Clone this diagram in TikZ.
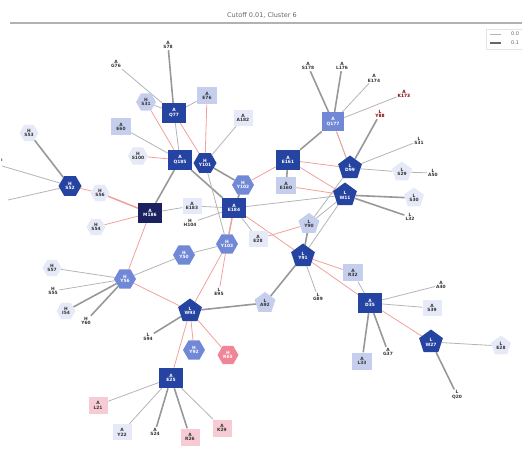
\documentclass[tikz,border=0pt]{standalone}
\usepackage{fontspec}
\setmainfont{DejaVu Sans}
\usetikzlibrary{shapes.geometric,backgrounds}
\definecolor{dkb}{HTML}{2544A2}
\definecolor{nvy}{HTML}{1B2160}
\definecolor{mdb}{HTML}{7088D6}
\definecolor{ltb}{HTML}{C6CEEE}
\definecolor{vlb}{HTML}{E6EAF8}
\definecolor{pnk}{HTML}{F6CBD3}
\definecolor{rpk}{HTML}{F08595}
\definecolor{ered}{HTML}{F3A09C}
\definecolor{egr}{HTML}{B4B4B4}
\definecolor{egk}{HTML}{989898}
\tikzset{
  x=1pt,y=-1pt,
  every node/.style={font=\fontsize{4.4}{4.8}\selectfont\bfseries,align=center,inner sep=1pt},
  sqd/.style={rectangle,fill=dkb,text=white,minimum width=24pt,minimum height=20pt},
  sqn/.style={rectangle,fill=nvy,text=white,minimum width=24pt,minimum height=20pt},
  sqm/.style={rectangle,fill=mdb,text=white,minimum width=22pt,minimum height=19pt},
  sql/.style={rectangle,fill=ltb,text=black!80,minimum width=20pt,minimum height=17pt},
  sqv/.style={rectangle,fill=vlb,text=black!80,minimum width=19pt,minimum height=16pt},
  sqp/.style={rectangle,fill=pnk,text=black!80,minimum width=19pt,minimum height=17pt},
  hxd/.style={regular polygon,regular polygon sides=6,fill=dkb,text=white,minimum size=23pt,inner sep=0pt},
  hxm/.style={regular polygon,regular polygon sides=6,fill=mdb,text=white,minimum size=22pt,inner sep=0pt},
  hxl/.style={regular polygon,regular polygon sides=6,fill=ltb,text=black!80,minimum size=20pt,inner sep=0pt},
  hxv/.style={regular polygon,regular polygon sides=6,fill=vlb,text=black!80,minimum size=19pt,inner sep=0pt},
  hxp/.style={regular polygon,regular polygon sides=6,fill=rpk,text=white,minimum size=21pt,inner sep=0pt},
  ptd/.style={regular polygon,regular polygon sides=5,fill=dkb,text=white,minimum size=25pt,inner sep=0pt},
  ptl/.style={regular polygon,regular polygon sides=5,fill=ltb,text=black!80,minimum size=22pt,inner sep=0pt},
  ptv/.style={regular polygon,regular polygon sides=5,fill=vlb,text=black!80,minimum size=21pt,inner sep=0pt},
  txt/.style={text=black!80},
  gthin/.style={draw=egr,line width=0.8pt},
  gthk/.style={draw=egk,line width=1.6pt},
  rthin/.style={draw=ered,line width=0.8pt},
  rthk/.style={draw=ered,line width=1.5pt},
}
\begin{document}
\begin{tikzpicture}
\useasboundingbox (0,0) rectangle (522,454);
% title
\node[font=\fontsize{6.5}{7}\selectfont,text=black!60] (title) at (262,15) {Cutoff 0.01, Cluster 6};
\draw[black!30,line width=1.6pt] (10,23) -- (522,23);
% legend
\node[draw=black!10,fill=white,minimum width=40pt,minimum height=20pt] (leg) at (506,39) {};
\coordinate (l1a) at (490,34); \coordinate (l1b) at (501,34);
\coordinate (l2a) at (490,43); \coordinate (l2b) at (501,43);
\draw[egr,line width=0.8pt] (l1a) -- (l1b);
\draw[black!60,line width=1.6pt] (l2a) -- (l2b);
\node[font=\fontsize{5}{5}\selectfont,text=black!60,anchor=west] (lt1) at (510,34) {0.0};
\node[font=\fontsize{5}{5}\selectfont,text=black!60,anchor=west] (lt2) at (510,43) {0.1};

% nodes
\node[txt] (S78) at (168,45) {A\\S78};
\node[txt] (G76) at (116,64) {A\\G76};
\node[sqd] (Q77) at (174,113) {A\\Q77};
\node[sql] (E76) at (207,96) {A\\E76};
\node[hxl] (S31h) at (146,102) {H\\S31};
\node[sql] (E60) at (121,127) {A\\E60};
\node[sqv] (A182) at (243,118) {A\\A182};
\node[hxv] (S100) at (138,156) {H\\S100};
\node[sqd] (Q185) at (180,160) {A\\Q185};
\node[hxd] (Y101) at (205,163) {H\\Y101};
\node[sqd] (E161) at (288,160) {A\\E161};
\node[sql] (E160) at (286,186) {A\\E160};
\node[hxm] (Y102) at (243,185) {H\\Y102};
\node[sqn] (M186) at (150,213) {A\\M186};
\node[sqv] (E183) at (192,206) {A\\E183};
\node[txt] (H104) at (190,223) {H\\H104};
\node[sqd] (E184) at (234,208) {A\\E184};
\node[sqv] (E28a) at (258,239) {A\\E28};
\node[hxm] (Y103) at (227,244) {H\\Y103};
\node[hxm] (Y50) at (184,255) {H\\Y50};
\node[txt] (E95) at (219,292) {L\\E95};
\node[ptd] (D99) at (350,168) {L\\D99};
\node[ptv] (S29) at (402,172) {L\\S29};
\node[txt] (A50) at (433,173) {L\\A50};
\node[txt] (S31) at (419,141) {L\\S31};
\node[ptd] (W11) at (345,195) {L\\W11};
\node[ptv] (S30) at (414,198) {L\\S30};
\node[txt] (L32) at (410,217) {L\\L32};
\node[ptl] (Y90) at (309,224) {L\\Y90};
\node[ptd] (Y91) at (303,256) {L\\Y91};
\node[sql] (R32) at (353,273) {A\\R32};
\node[sqd] (D35) at (370,303) {A\\D35};
\node[txt] (A40) at (441,285) {A\\A40};
\node[sqv] (S39) at (432,308) {A\\S39};
\node[sql] (L33) at (362,361) {A\\L33};
\node[txt] (G37) at (388,352) {A\\G37};
\node[ptd] (W27) at (431,342) {L\\W27};
\node[ptv] (E28) at (501,346) {L\\E28};
\node[txt] (Q20) at (457,395) {L\\Q20};
\node[txt] (G89) at (318,297) {L\\G89};
\node[ptl] (A92) at (265,303) {L\\A92};
\node[ptd] (W93) at (190,311) {L\\W93};
\node[txt] (S94) at (148,337) {L\\S94};
\node[hxm] (Y92) at (194,350) {H\\Y92};
\node[hxp] (R65) at (228,355) {H\\R65};
\node[sqd] (E25) at (171,378) {A\\E25};
\node[sqp] (L21) at (98,405) {A\\L21};
\node[sqv] (Y22) at (122,432) {A\\Y22};
\node[txt] (S24) at (155,432) {A\\S24};
\node[sqp] (R26) at (190,437) {A\\R26};
\node[sqp] (K29) at (222,428) {A\\K29};
\node[hxm] (Y56) at (125,279) {H\\Y56};
\node[hxv] (S57) at (52,268) {H\\S57};
\node[txt] (S55) at (53,291) {H\\S55};
\node[hxv] (I54) at (66,311) {H\\I54};
\node[txt] (Y60) at (86,321) {H\\Y60};
\node[hxd] (S52) at (70,186) {H\\S52};
\node[hxv] (S53) at (29,133) {H\\S53};
\node[hxv] (S56) at (100,193) {H\\S56};
\node[hxv] (S54) at (96,227) {H\\S54};
\node[sqm] (Q177) at (333,122) {A\\Q177};
\node[txt] (S178) at (308,66) {A\\S178};
\node[txt] (L176) at (342,66) {A\\L176};
\node[txt] (E174) at (374,78) {A\\E174};
\node[txt,text=red!50!black] (K173) at (404,94) {A\\K173};
\node[txt,text=red!50!black] (Y88) at (380,114) {L\\Y88};
\coordinate (lft1) at (2,166);
\coordinate (lft2) at (8,200);
\node[txt] (lftn) at (2,160) {ı};

\begin{scope}[on background layer]
% gray edges
\draw[gthk] (Q77) -- (S78);
\draw[gthin] (Q77) -- (G76);
\draw[gthin] (Q77) -- (E76);
\draw[gthin] (Q77) -- (S31h);
\draw[gthin] (Q77) -- (Q185);
\draw[gthin] (E60) -- (Q185);
\draw[gthin] (A182) -- (Y101);
\draw[gthk] (Q185) -- (M186);
\draw[gthk] (Q185) -- (E184);
\draw[gthk] (Y101) -- (Y102);
\draw[gthin] (Y101) -- (Y103);
\draw[gthk] (E161) -- (E160);
\draw[gthk] (E161) -- (Q177);
\draw[gthk] (E184) -- (Y102);
\draw[gthin] (E184) -- (E183);
\draw[gthin] (E183) -- (M186);
\draw[gthin] (E184) -- (H104);
\draw[gthin] (E184) -- (E28a);
\draw[gthin] (E184) -- (W11);
\draw[gthk] (S52) -- (S53);
\draw[gthin] (S52) -- (lft1);
\draw[gthin] (S52) -- (lft2);
\draw[gthin] (Y56) -- (S57);
\draw[gthin] (Y56) -- (S55);
\draw[gthk] (Y56) -- (I54);
\draw[gthk] (Y56) -- (Y60);
\draw[gthin] (Y56) -- (Y50);
\draw[gthin] (Y50) -- (Y103);
\draw[gthk] (W93) -- (A92);
\draw[gthk] (W93) -- (S94);
\draw[gthk] (A92) -- (Y91);
\draw[gthk] (Y91) -- (Y90);
\draw[gthin] (Y91) -- (G89);
\draw[gthin] (Y91) -- (W11);
\draw[gthin] (Y90) -- (W11);
\draw[gthin] (Y90) -- (D99);
\draw[gthin] (D99) -- (Q177);
\draw[gthk] (D99) -- (Y88);
\draw[gthin] (D99) -- (S31);
\draw[gthin] (D99) -- (S29);
\draw[gthin] (S29) -- (A50);
\draw[gthk] (W11) -- (S30);
\draw[gthk] (W11) -- (L32);
\draw[gthk] (Q177) -- (S178);
\draw[gthk] (Q177) -- (L176);
\draw[gthin] (Q177) -- (E174);
\draw[gthin] (Q177) -- (K173);
\draw[gthin] (D35) -- (R32);
\draw[gthin] (D35) -- (A40);
\draw[gthin] (D35) -- (S39);
\draw[gthk] (D35) -- (L33);
\draw[gthk] (D35) -- (G37);
\draw[gthin] (W27) -- (E28);
\draw[gthk] (W27) -- (Q20);
\draw[gthin] (E25) -- (L21);
\draw[gthin] (E25) -- (Y22);
\draw[gthk] (E25) -- (S24);
\draw[gthk] (E25) -- (R26);
\draw[gthin] (E25) -- (K29);
% red edges
\draw[rthin] (Q77) -- (Y101);
\draw[rthin] (E76) -- (Y101);
\draw[rthin] (S31h) -- (Q185);
\draw[rthin] (S100) -- (Q185);
\draw[rthin] (Y102) -- (E161);
\draw[rthin] (E161) -- (D99);
\draw[rthin] (E161) -- (W11);
\draw[rthin] (E160) -- (W11);
\draw[rthk] (E184) -- (Y103);
\draw[rthin] (E184) -- (Y91);
\draw[rthin] (E28a) -- (Y90);
\draw[rthk] (M186) -- (S56);
\draw[rthin] (M186) -- (S54);
\draw[rthin] (M186) -- (Y56);
\draw[rthin] (S52) -- (S56);
\draw[rthin] (Y56) -- (W93);
\draw[rthin] (Y103) -- (W93);
\draw[rthin] (Y103) -- (E95);
\draw[rthin] (W93) -- (Y92);
\draw[rthin] (W93) -- (R65);
\draw[rthin] (W93) -- (E25);
\draw[rthin] (Y91) -- (R32);
\draw[rthin] (Y91) -- (D35);
\draw[rthin] (Q177) -- (D99);
\draw[rthin] (D35) -- (W27);
\end{scope}
\end{tikzpicture}
\end{document}
